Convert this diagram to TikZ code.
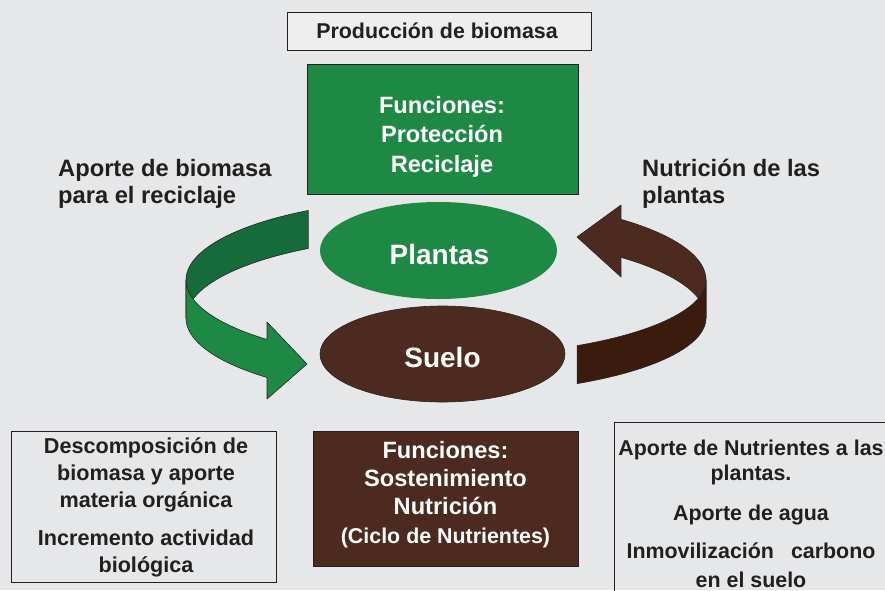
\documentclass[tikz,border=0pt]{standalone}
\usepackage{fontspec}
\setmainfont{Liberation Sans}
\usetikzlibrary{shapes.geometric}
\definecolor{bg}{RGB}{230,231,232}
\definecolor{grn}{RGB}{30,137,69}
\definecolor{dgrn}{RGB}{21,107,58}
\definecolor{brn}{RGB}{77,42,31}
\definecolor{dbrn}{RGB}{58,27,14}
\definecolor{txt}{RGB}{35,31,32}
\definecolor{topfill}{RGB}{238,238,239}
\begin{document}
\begin{tikzpicture}[x=1pt,y=-1pt,
  boxshape/.style={draw=txt, line width=0.7pt, inner sep=0, anchor=north west},
  darktext/.style={text=txt, inner sep=0, anchor=base, align=center},
  whitetext/.style={text=white, inner sep=0, anchor=base, align=center},
  ribbon/.style={draw=black!85, line width=0.6pt, line join=round}]
\useasboundingbox (0,0) rectangle (885,590);
\fill[bg] (0,0) rectangle (885,590);

% ribbon arrows (ring: centre (446,280), a=260, b=82, thickness 38)
\filldraw[ribbon, fill=dgrn] plot[domain=238:180, samples=40] ({446+260*cos(\x)},{280+82*sin(\x)})
   -- plot[domain=180:238, samples=40] ({446+260*cos(\x)},{318+82*sin(\x)}) -- cycle;
\filldraw[ribbon, fill=grn] plot[domain=180:133.5, samples=40] ({446+260*cos(\x)},{280+82*sin(\x)})
   -- (267,322) -- (307,364) -- (267,399)
   -- plot[domain=133.5:180, samples=40] ({446+260*cos(\x)},{318+82*sin(\x)}) -- cycle;
\filldraw[ribbon, fill=brn] (621,205) -- (577,237) -- (621,277)
   -- plot[domain=312.3:360, samples=40] ({446+260*cos(\x)},{318+82*sin(\x)})
   -- plot[domain=360:312.3, samples=40] ({446+260*cos(\x)},{280+82*sin(\x)}) -- cycle;
\filldraw[ribbon, fill=dbrn] plot[domain=0:59.7, samples=40] ({446+260*cos(\x)},{280+76*sin(\x)})
   -- plot[domain=59.7:0, samples=40] ({446+260*cos(\x)},{318+76*sin(\x)}) -- cycle;

% top label box
\node[boxshape, fill=topfill, minimum width=304pt, minimum height=38pt] (prodbox) at (287,12) {};
\node[darktext, font=\fontsize{21.4}{26}\selectfont\bfseries] (prodtext) at (437,38) {Producción de biomasa};

% green box
\node[boxshape, fill=grn, minimum width=271pt, minimum height=130pt] (greenbox) at (307,64) {};
\node[whitetext, font=\fontsize{23.6}{29.5}\selectfont\bfseries] (greentext) at (442,172)
  {Funciones:\\Protección\\Reciclaje};

% ellipses
\node[ellipse, fill=grn, minimum width=237pt, minimum height=97pt, inner sep=0] (plantas) at (438.5,250.5) {};
\node[whitetext, font=\fontsize{28}{32}\selectfont\bfseries] (plantastext) at (439.5,264) {Plantas};
\node[ellipse, fill=brn, draw=black!85, line width=0.6pt, minimum width=245pt, minimum height=96pt, inner sep=0] (suelo) at (442.5,354) {};
\node[whitetext, font=\fontsize{28}{32}\selectfont\bfseries] (suelotext) at (442.5,367) {Suelo};

% brown box
\node[boxshape, fill=brn, minimum width=265pt, minimum height=135pt] (brownbox) at (313,431) {};
\node[whitetext, font=\fontsize{23.6}{28.3}\selectfont\bfseries] (browntext) at (445.5,543)
  {Funciones:\\Sostenimiento\\Nutrición\\{\fontsize{21.4}{26}\selectfont (Ciclo de Nutrientes)}};

% side labels
\node[darktext, anchor=base west, align=left, font=\fontsize{23.7}{26.5}\selectfont\bfseries] (leftlabel) at (58,203)
  {Aporte de biomasa\\para el reciclaje};
\node[darktext, anchor=base west, align=left, font=\fontsize{23.7}{26.5}\selectfont\bfseries] (rightlabel) at (642,203)
  {Nutrición de las\\plantas};

% bottom left box
\node[boxshape, minimum width=265pt, minimum height=151pt] (leftbox) at (11,431) {};
\node[darktext, font=\fontsize{21.6}{26.8}\selectfont\bfseries] (lefttext) at (146,572)
  {Descomposición de\\biomasa y aporte\\materia orgánica\\[11pt]Incremento actividad\\biológica};

% bottom right box
\node[boxshape, minimum width=290pt, minimum height=190pt] (rightbox) at (614,422) {};
\node[darktext, font=\fontsize{21.4}{25}\selectfont\bfseries] (righttext) at (751,587)
  {Aporte de Nutrientes a las\\plantas.\\[15pt]Aporte de agua\\[13pt]Inmovilización\hspace{17pt}carbono\\[4pt]en el suelo};
\end{tikzpicture}
\end{document}
